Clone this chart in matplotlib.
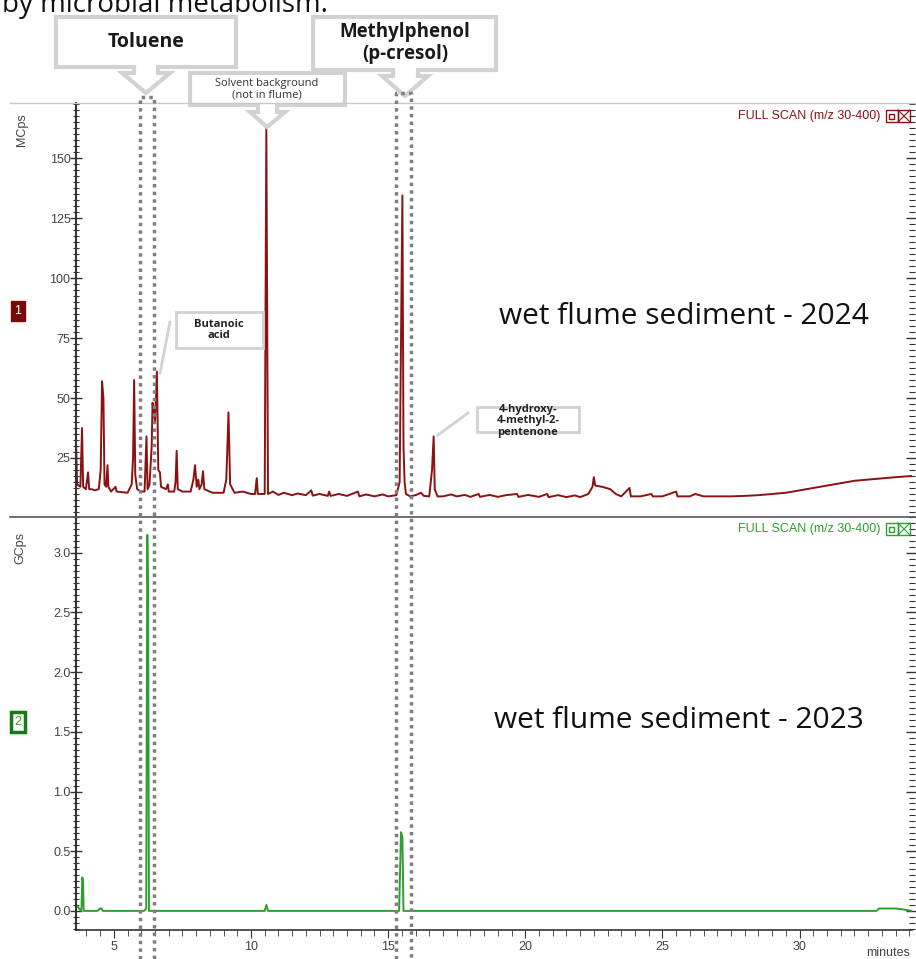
import matplotlib.pyplot as plt
from matplotlib.patches import Polygon, Rectangle
from matplotlib.ticker import MultipleLocator

# chromatogram vertices (time in minutes, signal)
t_2024 = [3.62, 3.66, 3.78, 3.84, 3.88, 3.98, 4.06, 4.10, 4.20, 4.30, 4.45, 4.52, 4.57, 4.62, 4.66,
          4.72, 4.77, 4.80, 4.90, 5.06, 5.10, 5.50, 5.65, 5.70, 5.74, 5.78, 5.85, 6.00, 6.12, 6.19,
          6.23, 6.30, 6.38, 6.41, 6.45, 6.50, 6.57, 6.62, 6.68, 6.72, 6.90, 6.97, 7.00, 7.20, 7.25,
          7.29, 7.33, 7.50, 7.80, 7.90, 7.96, 8.02, 8.08, 8.12, 8.20, 8.25, 8.30, 8.60, 9.00, 9.10,
          9.18, 9.24, 9.40, 9.70, 10.00, 10.15, 10.21, 10.25, 10.50, 10.56, 10.62, 10.80, 11.00,
          11.20, 11.50, 11.70, 12.00, 12.20, 12.25, 12.50, 12.80, 12.85, 12.90, 13.20, 13.50, 13.90,
          13.95, 14.20, 14.50, 14.80, 15.00, 15.30, 15.42, 15.52, 15.56, 15.60, 15.65, 15.80, 16.00,
          16.20, 16.30, 16.50, 16.60, 16.66, 16.70, 16.80, 17.00, 17.30, 17.50, 17.80, 18.00, 18.30,
          18.35, 18.70, 19.00, 19.30, 19.70, 19.75, 20.10, 20.50, 20.80, 20.85, 21.20, 21.50, 21.80,
          22.00, 22.30, 22.45, 22.50, 22.55, 22.80, 23.10, 23.30, 23.50, 23.80, 23.85, 24.20, 24.60,
          24.65, 25.00, 25.50, 25.55, 26.00, 26.20, 26.50, 27.00, 27.50, 28.00, 28.50, 29.00, 29.50,
          30.00, 30.50, 31.00, 31.50, 32.00, 32.50, 33.00, 33.50, 34.10]
v_2024 = [32, 14, 13, 37.5, 13, 12, 19, 12, 12, 11.5, 12, 20, 57, 50, 14,
          13, 22, 13, 11, 13, 11, 10.5, 14, 25, 57.5, 18, 12, 11, 11, 34,
          12, 14, 30, 48, 45, 40, 61, 20, 19, 13, 12, 14, 11, 11, 15,
          28, 12, 11, 11, 16, 22, 13, 16, 12, 14, 19.5, 12, 10.5, 10.5, 16,
          44, 14, 10.5, 11, 10, 10, 16.6, 10, 10, 162.5, 10, 11, 9.6,
          10.5, 9.5, 10.2, 9.5, 11.5, 9.3, 10, 9.2, 11, 9.2, 10, 9.2, 11,
          9, 9.8, 9, 9.8, 9, 9.5, 15, 134.5, 30, 15, 10, 9, 9.5,
          10.5, 9.2, 9, 20, 34, 12, 9, 9, 9.8, 9, 9.6, 8.8, 10,
          8.8, 9.6, 8.8, 9.5, 10, 8.8, 9.6, 8.8, 10, 8.7, 9.5, 8.7, 9.4,
          8.7, 10, 13, 17, 13.5, 13, 12, 10, 9, 12.5, 9, 9, 10,
          9, 9, 11, 9, 9, 10, 9, 9, 9, 9.2, 9.5, 10, 10.5,
          11.5, 12.5, 13.5, 14.5, 15.5, 16, 16.5, 17, 17.5]

t_2023 = [3.62, 3.70, 3.80, 3.82, 3.85, 3.88, 3.90, 4.40, 4.50, 4.55, 4.60, 6.10, 6.18, 6.22, 6.25,
          6.28, 10.50, 10.56, 10.62, 15.40, 15.47, 15.52, 15.56, 32.80, 32.90, 33.50, 33.70, 34.10]
v_2023 = [0.05, 0.03, 0.0, 0.02, 0.28, 0.24, 0.0, 0.0, 0.02, 0.02, 0.0, 0.0, 0.02, 3.15, 2.55,
          0.0, 0.0, 0.05, 0.0, 0.0, 0.66, 0.62, 0.0, 0.0, 0.02, 0.02, 0.015, 0.0]

toluene_window = (5.94, 6.45)
cresol_window = (15.29, 15.83)

red = '#8b1212'
green = '#2e9e2e'
tick_col = '#444444'

plt.rcParams['font.family'] = ['Liberation Sans', 'DejaVu Sans']

fig = plt.figure(figsize=(9.16, 9.59), dpi=100)
ax1 = fig.add_axes([76 / 916, 1 - 517 / 959, 836 / 916, 414 / 959])
ax2 = fig.add_axes([76 / 916, 1 - 930 / 959, 836 / 916, 413 / 959])

ax1.plot(t_2024, v_2024, color=red, lw=1.4)
ax2.plot(t_2023, v_2023, color=green, lw=1.4)

ax1.set_xlim(3.62, 34.1)
ax2.set_xlim(3.62, 34.1)
ax1.set_ylim(0.4, 173)
ax2.set_ylim(-0.16, 3.3)

for ax in (ax1, ax2):
    ax.spines['right'].set_visible(False)
    ax.spines['top'].set_visible(False)
    ax.spines['left'].set_color('#333333')
    ax.spines['left'].set_linewidth(1.5)
    ax.tick_params(axis='y', which='major', direction='inout', length=8, width=1,
                   colors='#333333', labelcolor=tick_col, labelsize=9, right=True, pad=0)
    ax.tick_params(axis='y', which='minor', direction='inout', length=4, width=0.8,
                   colors='#333333', right=True)
    ax.tick_params(axis='x', which='both', direction='out', colors='#333333', labelcolor=tick_col,
                   labelsize=9)
    ax.xaxis.set_major_locator(MultipleLocator(5))
    ax.xaxis.set_minor_locator(MultipleLocator(0.5))

ax1.yaxis.set_major_locator(MultipleLocator(25))
ax1.yaxis.set_minor_locator(MultipleLocator(2.5))
ax1.set_yticks([25, 50, 75, 100, 125, 150])
ax2.yaxis.set_major_locator(MultipleLocator(0.5))
ax2.yaxis.set_minor_locator(MultipleLocator(0.05))
ax2.set_yticks([0.0, 0.5, 1.0, 1.5, 2.0, 2.5, 3.0])
ax2.yaxis.set_major_formatter(plt.FormatStrFormatter('%.1f'))

ax1.spines['bottom'].set_visible(False)
ax1.tick_params(axis='x', which='both', bottom=False, labelbottom=False)
ax2.spines['bottom'].set_color('#333333')
ax2.spines['bottom'].set_linewidth(1.2)
ax2.tick_params(axis='x', which='major', length=6, pad=2)
ax2.tick_params(axis='x', which='minor', length=4)

# overlay in pixel coordinates for annotations
ov = fig.add_axes([0, 0, 1, 1], zorder=10)
ov.set_xlim(0, 916)
ov.set_ylim(959, 0)
ov.axis('off')
ov.patch.set_alpha(0)

ov.plot([10, 916], [103, 103], color='#c8c8c8', lw=1)
ov.plot([10, 916], [517, 517], color='#555555', lw=1.2)

ov.text(2, 12, 'by microbial metabolism.', fontsize=20, family='Open Sans', va='baseline', color='#111111')


def px(t):
    return ax1.transData.transform((t, 1))[0]


# dotted windows
for (a, b), top in ((toluene_window, 97), (cresol_window, 93)):
    xa, xb = px(a), px(b)
    ov.plot([xa, xa, xb, xb], [959, top, top, 959], color='#7f7f7f', ls=(0, (1, 1.2)), lw=2.5)


def callout(x0, x1, y0, y1, sx0, sx1, hy, hx0, hx1, tip):
    pts = [(x0, y0), (x1, y0), (x1, y1), (sx1, y1), (sx1, hy), (hx1, hy), tip,
           (hx0, hy), (sx0, hy), (sx0, y1), (x0, y1)]
    ov.add_patch(Polygon(pts, closed=True, facecolor='white', edgecolor='#d2d2d2', lw=3))


callout(56, 236, 17, 67, 134, 158, 73, 122, 170, (146, 93))
ov.text(146, 42, 'Toluene', fontsize=14, family='Open Sans', weight='bold', ha='center', va='center', color='#1a1a1a')
callout(313, 496, 17, 70, 393, 418, 76, 382, 428, (405, 96))
ov.text(405, 43, 'Methylphenol\n(p-cresol)', fontsize=13.5, family='Open Sans', weight='bold', ha='center',
        va='center', color='#1a1a1a', linespacing=1.1)
callout(190, 345, 73, 105, 258, 277, 112, 250, 285, (267, 127))
ov.text(267, 89, 'Solvent background\n(not in flume)', fontsize=8, family='Open Sans', ha='center',
        va='center', color='#333333', linespacing=1.1)

# small labelled boxes
ov.add_patch(Rectangle((176, 312), 87, 36, facecolor='white', edgecolor='#d2d2d2', lw=2))
ov.text(219, 330, 'Butanoic\nacid', fontsize=8, family='Open Sans', weight='bold', ha='center',
        va='center', color='#222222', linespacing=1.1)
ov.plot([170, 160], [322, 373], color='#d2d2d2', lw=2)
ov.add_patch(Rectangle((477, 407), 102, 25, facecolor='white', edgecolor='#d2d2d2', lw=2))
ov.text(528, 421, '4-hydroxy-\n4-methyl-2-\npentenone', fontsize=8, family='Open Sans', weight='bold',
        ha='center', va='center', color='#222222', linespacing=1.1)
ov.plot([438, 468], [435, 413], color='#d2d2d2', lw=2)

# sample labels
ov.text(684, 317, 'wet flume sediment - 2024', fontsize=21.5, family='Open Sans', ha='center', va='center',
        color='#111111')
ov.text(679, 721, 'wet flume sediment - 2023', fontsize=21.5, family='Open Sans', ha='center', va='center',
        color='#111111')

# instrument labels
ov.text(880, 116, 'FULL SCAN (m/z 30-400)', fontsize=9, ha='right', va='center', color=red)
ov.text(880, 529, 'FULL SCAN (m/z 30-400)', fontsize=9, ha='right', va='center', color=green)
for y, c in ((116, red), (529, green)):
    ov.add_patch(Rectangle((886, y - 6), 12, 12, facecolor='none', edgecolor=c, lw=1))
    ov.add_patch(Rectangle((889, y - 2.5), 5, 5, facecolor='none', edgecolor=c, lw=1))
    ov.add_patch(Rectangle((898, y - 6), 12, 12, facecolor='none', edgecolor=c, lw=1))
    ov.plot([898, 910], [y - 6, y + 6], color=c, lw=0.8)
    ov.plot([898, 910], [y + 6, y - 6], color=c, lw=0.8)

ov.text(22, 130, 'MCps', fontsize=9, rotation=90, ha='center', va='center', color=tick_col)
ov.text(20, 548, 'GCps', fontsize=9, rotation=90, ha='center', va='center', color=tick_col)
ov.text(18, 311, '1', fontsize=9, ha='center', va='center', color='white',
        bbox=dict(boxstyle='square,pad=0.3', facecolor='#7a0a0a', edgecolor='#7a0a0a'))
ov.text(18, 722, '2', fontsize=9, ha='center', va='center', color=green,
        bbox=dict(boxstyle='square,pad=0.3', facecolor='white', edgecolor='#157a15', lw=2.5))
ov.text(888, 953, 'minutes', fontsize=9, ha='center', va='center', color=tick_col)

fig.savefig('out.png', dpi=100)
